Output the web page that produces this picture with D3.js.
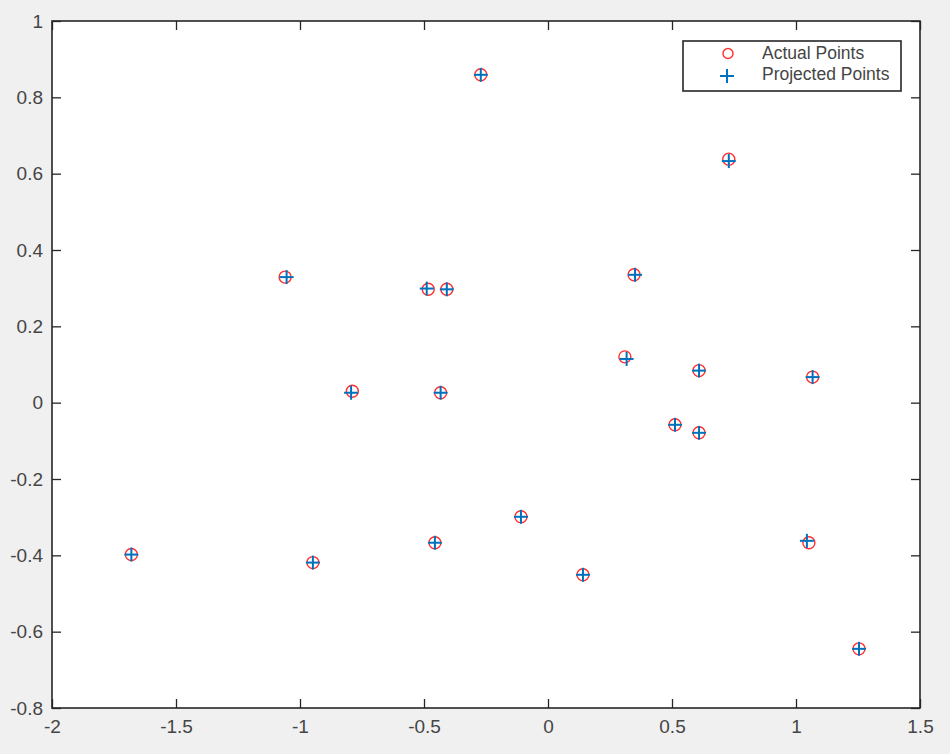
<!DOCTYPE html>
<html>
<head>
<meta charset="utf-8">
<script src="https://cdn.jsdelivr.net/npm/d3@7"></script>
<style>
  html, body { margin: 0; padding: 0; background: #f0f0f0; }
  svg { display: block; }
  text { font-family: "Liberation Sans", Arial, Helvetica, sans-serif; }
</style>
</head>
<body>
<svg id="chart" width="950" height="754"></svg>
<script>
// ---- data ----
const actualX = [-0.271, 0.729, -1.060, -0.483, -0.408, -0.789, -0.433, 0.310, 0.609, 1.067, 0.512, 0.609, 1.052, 1.254, -1.680, -0.948, -0.456, -0.109, 0.141, 0.347];
const actualY = [0.859, 0.638, 0.329, 0.297, 0.297, 0.030, 0.026, 0.120, 0.084, 0.067, -0.058, -0.079, -0.367, -0.645, -0.398, -0.419, -0.367, -0.299, -0.451, 0.335];
const projX = [-0.271, 0.729, -1.054, -0.489, -0.408, -0.794, -0.433, 0.317, 0.609, 1.067, 0.512, 0.609, 1.044, 1.254, -1.680, -0.948, -0.456, -0.109, 0.141, 0.351];
const projY = [0.859, 0.633, 0.329, 0.299, 0.297, 0.026, 0.026, 0.1145, 0.084, 0.067, -0.058, -0.079, -0.362, -0.645, -0.398, -0.419, -0.367, -0.299, -0.451, 0.335];
const xTicks = [-2, -1.5, -1, -0.5, 0, 0.5, 1, 1.5];
const yTicks = [-0.8, -0.6, -0.4, -0.2, 0, 0.2, 0.4, 0.6, 0.8, 1];
const legendLabels = ["Actual Points", "Projected Points"];

// ---- layout ----
const L = 52, R = 920, T = 21, B = 708;
const svg = d3.select("#chart");
const x = d3.scaleLinear().domain([-2, 1.5]).range([L, R]);
const y = d3.scaleLinear().domain([-0.8, 1]).range([B, T]);
const fmt = v => String(+v.toFixed(1));
const axisColor = "#262626";
const labelColor = "#454545";

svg.append("rect").attr("x", L).attr("y", T).attr("width", R - L).attr("height", B - T).attr("fill", "#fff");

function styleAxis(g) {
  g.select(".domain").remove();
  g.selectAll(".tick line").attr("stroke", axisColor).attr("stroke-width", 1.3);
  g.selectAll(".tick text").attr("fill", labelColor).style("font-size", "19px");
}

svg.append("g").attr("transform", `translate(0,${B})`)
  .call(d3.axisBottom(x).tickValues(xTicks).tickFormat(fmt).tickSizeInner(-9).tickSizeOuter(0).tickPadding(12))
  .call(styleAxis);
svg.append("g").attr("transform", `translate(0,${T})`)
  .call(d3.axisTop(x).tickValues(xTicks).tickFormat("").tickSizeInner(-9).tickSizeOuter(0))
  .call(styleAxis);
svg.append("g").attr("transform", `translate(${L},0)`)
  .call(d3.axisLeft(y).tickValues(yTicks).tickFormat(fmt).tickSizeInner(-9).tickSizeOuter(0).tickPadding(9))
  .call(styleAxis);
svg.append("g").attr("transform", `translate(${R},0)`)
  .call(d3.axisRight(y).tickValues(yTicks).tickFormat("").tickSizeInner(-9).tickSizeOuter(0))
  .call(styleAxis);

svg.selectAll(".tick text").attr("font-family", null);

svg.append("rect").attr("x", L).attr("y", T).attr("width", R - L).attr("height", B - T)
  .attr("fill", "none").attr("stroke", axisColor).attr("stroke-width", 1.6);

// ---- markers ----
const red = "#ff3030", blue = "#0072bd";
const arm = 7;
const actual = actualX.map((v, i) => ({ x: v, y: actualY[i] }));
const proj = projX.map((v, i) => ({ x: v, y: projY[i] }));

svg.append("g").selectAll("circle").data(actual).join("circle")
  .attr("cx", d => x(d.x)).attr("cy", d => y(d.y)).attr("r", 6)
  .attr("fill", "none").attr("stroke", red).attr("stroke-width", 1.4);

function plus(sel) {
  sel.append("line").attr("x1", -arm).attr("x2", arm).attr("y1", 0).attr("y2", 0);
  sel.append("line").attr("x1", 0).attr("x2", 0).attr("y1", -arm).attr("y2", arm);
  sel.selectAll("line").attr("stroke", blue).attr("stroke-width", 2);
}
svg.append("g").selectAll("g").data(proj).join("g")
  .attr("transform", d => `translate(${x(d.x)},${y(d.y)})`)
  .call(plus);

// ---- legend ----
const lg = svg.append("g");
lg.append("rect").attr("x", 683).attr("y", 41).attr("width", 218).attr("height", 50)
  .attr("fill", "#fff").attr("stroke", axisColor).attr("stroke-width", 1.6);
lg.append("circle").attr("cx", 728).attr("cy", 53.5).attr("r", 5)
  .attr("fill", "none").attr("stroke", red).attr("stroke-width", 1.4);
lg.append("g").attr("transform", "translate(727,76)").call(plus);
lg.selectAll("text.lab").data(legendLabels).join("text").attr("class", "lab")
  .attr("x", 762).attr("y", (d, i) => 53 + i * 21).attr("dy", "0.35em")
  .attr("fill", labelColor).style("font-size", "17.5px").text(d => d);
</script>
</body>
</html>
